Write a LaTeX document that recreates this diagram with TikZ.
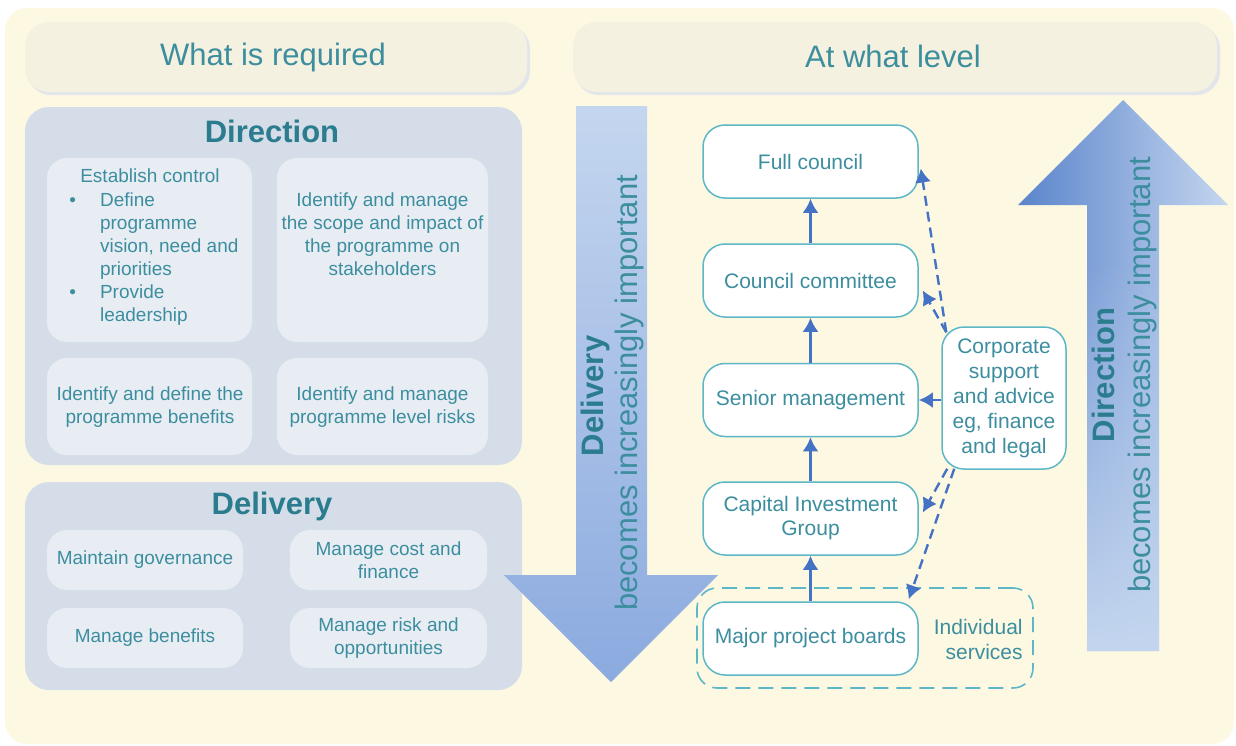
\documentclass[tikz,border=0pt]{standalone}
\usepackage{fontspec}
\setmainfont{Liberation Sans}
\usetikzlibrary{arrows.meta,calc,fadings}

\definecolor{paper}{HTML}{FDF8E2}
\definecolor{headfill}{HTML}{F5F1E0}
\definecolor{headedge}{HTML}{E2E5E9}
\definecolor{panelfill}{HTML}{D5DEE8}
\definecolor{cellfill}{HTML}{E8EDF4}
\definecolor{tealtext}{HTML}{3C8E9F}
\definecolor{tealdark}{HTML}{2A7C8E}
\definecolor{nodeedge}{HTML}{5DB7C7}
\definecolor{linkblue}{HTML}{4472C4}
\definecolor{arrowlight}{HTML}{C4D6EF}
\definecolor{arrowmid}{HTML}{8BAADF}
\definecolor{arrowdark}{HTML}{5A84CB}

\begin{document}
\begin{tikzpicture}[x=0.5pt,y=-0.5pt,
  headbox/.style={fill=headfill, rounded corners=12pt},
  headshadow/.style={fill=headedge, rounded corners=12pt},
  panel/.style={fill=panelfill, rounded corners=12pt},
  cell/.style={fill=cellfill, rounded corners=10pt, inner sep=0pt},
  headtext/.style={font=\fontsize{15.5}{18}\selectfont, text=tealtext},
  paneltitle/.style={font=\fontsize{15.5}{18}\selectfont\bfseries, text=tealdark},
  body/.style={font=\fontsize{9.5}{11.5}\selectfont, text=tealtext, align=center, inner sep=0pt},
  flowbox/.style={draw=nodeedge, line width=0.75pt, fill=white, rounded corners=11pt,
    minimum width=107.5pt, minimum height=36.5pt, inner sep=2pt,
    font=\fontsize{10.5}{12}\selectfont, text=tealtext, align=center},
  groupbox/.style={draw=nodeedge, line width=0.8pt, dash pattern=on 7.5pt off 4pt,
    rounded corners=10pt, minimum width=168pt, minimum height=50pt},
  sidetext/.style={font=\fontsize{15.5}{18}\selectfont, text=tealdark, rotate=90, inner sep=0pt},
  uplink/.style={-{Latex[length=7pt,width=8pt]}, draw=linkblue, line width=1.4pt},
  dashlink/.style={uplink, line width=1.2pt, dash pattern=on 5pt off 3pt}
]
% page frame and cream background
\useasboundingbox (0,0) rectangle (1236,745);
\fill[white] (0,0) rectangle (1236,745);
\fill[paper, rounded corners=11pt] (5,8) rectangle (1234,744);

% column headings
\fill[headshadow] (27,25) rectangle (530,95);
\fill[headbox] (25,22) rectangle (527,92);
\node[headtext] (hreq) at (273,57) {What is required};
\fill[headshadow] (575,25) rectangle (1220,95);
\fill[headbox] (573,22) rectangle (1217,92);
\node[headtext] (hlev) at (893,56) {At what level};

% Direction panel
\fill[panel] (25,107) rectangle (522,465);
\node[paneltitle] (tdir) at (272,131) {Direction};
\node[cell, minimum width=102.5pt, minimum height=92pt] (d1) at (149.5,250) {};
\node[cell, minimum width=105.5pt, minimum height=92pt] (d2) at (382.5,250) {};
\node[cell, minimum width=102.5pt, minimum height=48.5pt] (d3) at (149.5,406.5) {};
\node[cell, minimum width=105.5pt, minimum height=48.5pt] (d4) at (382.5,406.5) {};
\node[body] (d1head) at (150,176) {Establish control};
\node[body, anchor=north west, align=left] (d1list) at (69,190)
  {\begin{tabular}{@{}l@{\hspace{12pt}}l@{}}
   \textbullet & Define\\
               & programme\\
               & vision, need and\\
               & priorities\\
   \textbullet & Provide\\
               & leadership
   \end{tabular}};
\node[body] (d2text) at (382.5,234) {Identify and manage\\the scope and impact of\\the programme on\\stakeholders};
\node[body] (d3text) at (150,407) {Identify and define the\\programme benefits};
\node[body] (d4text) at (382.5,407) {Identify and manage\\programme level risks};

% Delivery panel
\fill[panel] (25,482) rectangle (522,690);
\node[paneltitle] (tdel) at (272,506) {Delivery};
\node[cell, minimum width=98pt, minimum height=30pt] (v1) at (145,560) {};
\node[cell, minimum width=98.5pt, minimum height=30pt] (v2) at (388.5,560) {};
\node[cell, minimum width=98pt, minimum height=30pt] (v3) at (145,638) {};
\node[cell, minimum width=98.5pt, minimum height=30pt] (v4) at (388.5,638) {};
\node[body] (v1text) at (145,560) {Maintain governance};
\node[body] (v2text) at (388.5,560) {Manage cost and\\finance};
\node[body] (v3text) at (145,638) {Manage benefits};
\node[body] (v4text) at (388.5,638) {Manage risk and\\opportunities};

% downward arrow: delivery gains weight lower down
\shade[top color=arrowlight, bottom color=arrowmid]
  (576,106) -- (647,106) -- (647,575) -- (718,575) -- (611,682) -- (504,575) -- (576,575) -- cycle;
\node[sidetext, font=\fontsize{15.5}{18}\selectfont\bfseries] (sdel) at (595,396) {Delivery};
\node[sidetext, text=tealtext] (sdeltxt) at (629,393) {becomes increasingly important};

% upward arrow: direction gains weight higher up
\shade[left color=arrowdark, right color=arrowlight]
  (1123,100) -- (1228,205) -- (1159,205) -- (1159,651) -- (1087,651) -- (1087,205) -- (1018,205) -- cycle;
\fill[arrowlight, path fading=north]
  (1087,260) rectangle (1159,651);
\node[sidetext, font=\fontsize{15.5}{18}\selectfont\bfseries] (sdir) at (1103,375) {Direction};
\node[sidetext, text=tealtext] (sdirtxt) at (1142,375) {becomes increasingly important};

% governance levels
\node[groupbox] (grp) at (865,638) {};
\node[flowbox] (fc)  at (810.5,161.5) {Full council};
\node[flowbox] (cc)  at (810.5,280.5) {Council committee};
\node[flowbox] (sm)  at (810.5,400)   {Senior management};
\node[flowbox] (cig) at (810.5,518.5) {Capital Investment\\Group};
\node[flowbox] (mpb) at (810.5,638.5) {Major project boards};
\node[flowbox, minimum width=62pt, minimum height=71pt, inner sep=1pt,
      font=\fontsize{10.5}{12.5}\selectfont] (corp) at (1004,398)
  {Corporate\\support\\and advice\\eg, finance\\and legal};
\node[font=\fontsize{10.5}{12.5}\selectfont, text=tealtext, align=right, anchor=east, inner sep=0pt]
  (indiv) at (1023,639) {Individual\\services};

% reporting lines
\draw[uplink] (mpb.north) -- (cig.south);
\draw[uplink] (cig.north) -- (sm.south);
\draw[uplink] (sm.north) -- (cc.south);
\draw[uplink] (cc.north) -- (fc.south);
\draw[uplink] (corp.west |- sm.east) -- (sm.east);

% advisory lines from corporate support
\coordinate (ctop) at ($(corp.north west)+(5,6)$);
\coordinate (cbota) at ($(corp.south west)+(6,-1)$);
\coordinate (cbotb) at ($(corp.south west)+(13,-1)$);
\draw[dashlink] (ctop) -- ($(fc.east)+(2,7)$);
\draw[dashlink] (ctop) -- ($(cc.east)+(4,10)$);
\draw[dashlink] (cbota) -- ($(cig.east)+(4,-6)$);
\draw[dashlink] (cbotb) -- ($(mpb.north east)+(-10,-2)$);
\end{tikzpicture}
\end{document}
